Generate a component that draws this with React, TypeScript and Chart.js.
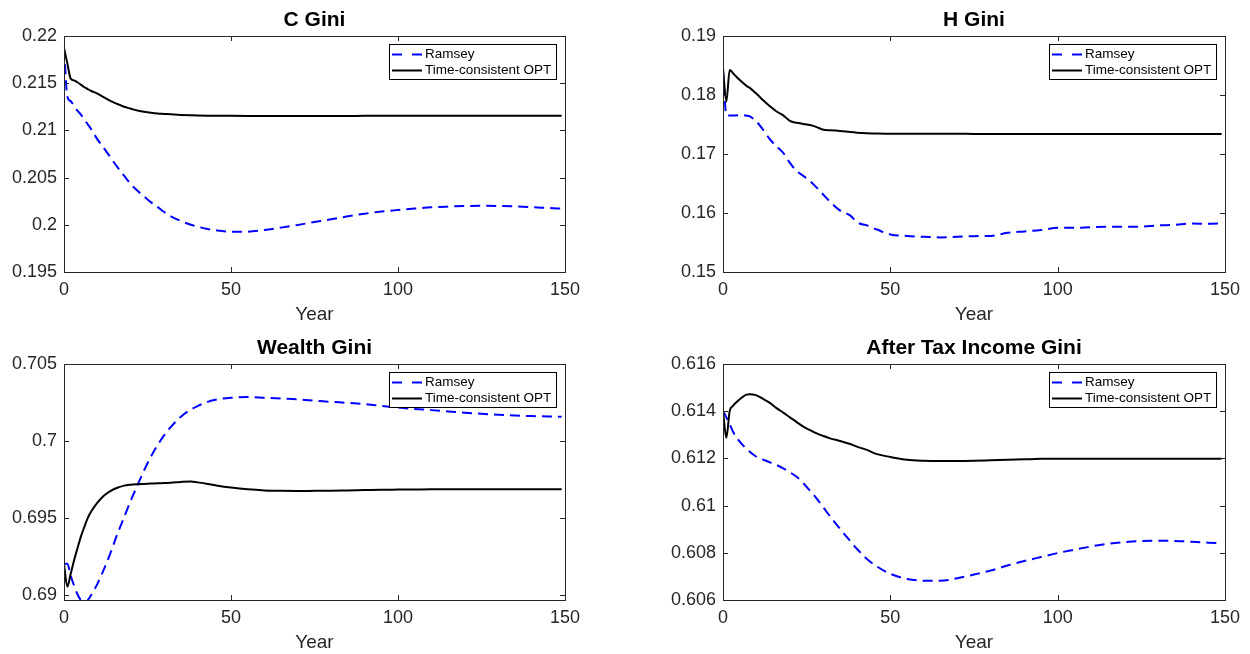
import { useEffect, useRef } from 'react';
import { Chart, registerables } from 'chart.js';

Chart.register(...registerables);

const years = [0, 1, 2, 3, 4, 5, 6, 7, 8, 10, 12, 14, 16, 18, 20, 22, 24, 26, 28, 30, 32, 35, 38, 40, 43, 46, 50, 55, 60, 65, 70, 75, 80, 85, 90, 95, 100, 105, 110, 115, 120, 125, 130, 135, 140, 145, 149];

const seriesLabels = ['Ramsey', 'Time-consistent OPT'];
const panelTitles = ['C Gini', 'H Gini', 'Wealth Gini', 'After Tax Income Gini'];
const xAxisLabel = 'Year';
const xTicks = [0, 50, 100, 150];

const cGiniRamsey = [0.2187, 0.2136, 0.2131, 0.2126, 0.2121, 0.2117, 0.2112, 0.2107, 0.2102, 0.20905, 0.2081, 0.2071, 0.2061, 0.2052, 0.2043, 0.2036, 0.2030, 0.2024, 0.2019, 0.20135, 0.2009, 0.2004, 0.2000, 0.1998, 0.19955, 0.1994, 0.19927, 0.19927, 0.19945, 0.1997, 0.19998, 0.2003, 0.20058, 0.2009, 0.20118, 0.2014, 0.20157, 0.20172, 0.20185, 0.20193, 0.20199, 0.20201, 0.20199, 0.20195, 0.20187, 0.20178, 0.20171];
const cGiniTC = [0.2187, 0.2171, 0.21548, 0.2153, 0.2151, 0.21485, 0.2146, 0.2144, 0.2142, 0.2139, 0.2135, 0.2131, 0.2128, 0.2125, 0.2123, 0.2121, 0.21198, 0.21188, 0.2118, 0.21175, 0.2117, 0.21164, 0.2116, 0.21158, 0.21156, 0.21155, 0.21154, 0.21153, 0.21152, 0.21152, 0.21152, 0.21152, 0.21153, 0.21153, 0.21154, 0.21154, 0.21155, 0.21155, 0.21155, 0.21155, 0.21155, 0.21155, 0.21155, 0.21155, 0.21155, 0.21155, 0.21155];
const cGiniTicks = [0.195, 0.2, 0.205, 0.21, 0.215, 0.22];

const hGiniRamsey = [0.1844, 0.1766, 0.17654, 0.17652, 0.17655, 0.17654, 0.1766, 0.1765, 0.17637, 0.1755, 0.1741, 0.1725, 0.1713, 0.1702, 0.1685, 0.1671, 0.1663, 0.1654, 0.1643, 0.1631, 0.1619, 0.1604, 0.1596, 0.15845, 0.1579, 0.1572, 0.15637, 0.1561, 0.15597, 0.15586, 0.15597, 0.15608, 0.1561, 0.15665, 0.15687, 0.1571, 0.15749, 0.15749, 0.15761, 0.15766, 0.15766, 0.1577, 0.15789, 0.158, 0.15822, 0.15817, 0.15822];
const hGiniTC = [0.1844, 0.1789, 0.18425, 0.18369, 0.1831, 0.18256, 0.18205, 0.18155, 0.1812, 0.1802, 0.1791, 0.1781, 0.1772, 0.17655, 0.1756, 0.1753, 0.1751, 0.1749, 0.17456, 0.1741, 0.17402, 0.1739, 0.17372, 0.17362, 0.17353, 0.17347, 0.17344, 0.17343, 0.17342, 0.17342, 0.17342, 0.17341, 0.17341, 0.17341, 0.1734, 0.1734, 0.1734, 0.1734, 0.1734, 0.1734, 0.1734, 0.1734, 0.1734, 0.1734, 0.1734, 0.1734, 0.1734];
const hGiniTicks = [0.15, 0.16, 0.17, 0.18, 0.19];

const wealthRamsey = [0.692, 0.692, 0.69124, 0.69059, 0.69004, 0.68965, 0.6895, 0.68961, 0.68993, 0.6907, 0.69167, 0.69276, 0.69396, 0.69504, 0.69613, 0.69711, 0.69809, 0.69896, 0.69972, 0.70037, 0.70091, 0.70157, 0.70204, 0.70226, 0.70254, 0.7027, 0.7028, 0.70285, 0.7028, 0.70275, 0.7027, 0.70262, 0.70254, 0.70247, 0.70239, 0.70228, 0.70217, 0.70208, 0.702, 0.70191, 0.70183, 0.70176, 0.7017, 0.70165, 0.70161, 0.70159, 0.70157];
const wealthTC = [0.692, 0.69052, 0.69135, 0.69222, 0.69298, 0.69374, 0.69435, 0.69493, 0.69535, 0.69598, 0.69645, 0.69675, 0.69695, 0.69709, 0.69715, 0.69718, 0.6972, 0.69722, 0.69724, 0.69726, 0.69728, 0.69733, 0.69736, 0.6973, 0.6972, 0.69708, 0.69696, 0.69685, 0.69678, 0.69675, 0.69674, 0.69675, 0.69676, 0.69678, 0.6968, 0.69682, 0.69683, 0.69684, 0.69685, 0.69685, 0.69685, 0.69685, 0.69685, 0.69685, 0.69685, 0.69685, 0.69685];
const wealthTicks = [0.69, 0.695, 0.7, 0.705];

const incomeRamsey = [0.61401, 0.61374, 0.61345, 0.61313, 0.6129, 0.61271, 0.61255, 0.6124, 0.61228, 0.61207, 0.61195, 0.61183, 0.61172, 0.61158, 0.61141, 0.61122, 0.61095, 0.61063, 0.6103, 0.60992, 0.60954, 0.60901, 0.6085, 0.60817, 0.60774, 0.60742, 0.60711, 0.60689, 0.60682, 0.60682, 0.60692, 0.60708, 0.60725, 0.60746, 0.60765, 0.60782, 0.60799, 0.60813, 0.60827, 0.60838, 0.60845, 0.6085, 0.60851, 0.6085, 0.60847, 0.60843, 0.6084];
const incomeTC = [0.61401, 0.61288, 0.61401, 0.61423, 0.61438, 0.61451, 0.61462, 0.6147, 0.61472, 0.61467, 0.61452, 0.61435, 0.61413, 0.61394, 0.61374, 0.61354, 0.61335, 0.6132, 0.61306, 0.61295, 0.61285, 0.61274, 0.61261, 0.6125, 0.61236, 0.61218, 0.61206, 0.61194, 0.6119, 0.61189, 0.61189, 0.6119, 0.61192, 0.61194, 0.61196, 0.61198, 0.61199, 0.61199, 0.61199, 0.61199, 0.61199, 0.61199, 0.61199, 0.61199, 0.61199, 0.61199, 0.61199];
const incomeTicks = [0.606, 0.608, 0.61, 0.612, 0.614, 0.616];

const FONT = '"Liberation Sans", Arial, Helvetica, sans-serif';
const AXIS_COLOR = '#262626';

type Panel = {
  title: string;
  ramsey: number[];
  tc: number[];
  yMin: number;
  yMax: number;
  yTicks: number[];
  left: number;
  top: number;
  width: number;
  height: number;
  padRight: number;
};

const panels: Panel[] = [
  { title: panelTitles[0], ramsey: cGiniRamsey, tc: cGiniTC, yMin: 0.195, yMax: 0.22, yTicks: cGiniTicks, left: 0, top: 0, width: 620, height: 326, padRight: 55 },
  { title: panelTitles[1], ramsey: hGiniRamsey, tc: hGiniTC, yMin: 0.15, yMax: 0.19, yTicks: hGiniTicks, left: 659, top: 0, width: 591, height: 326, padRight: 25 },
  { title: panelTitles[2], ramsey: wealthRamsey, tc: wealthTC, yMin: 0.68965, yMax: 0.705, yTicks: wealthTicks, left: 0, top: 328, width: 620, height: 326, padRight: 55 },
  { title: panelTitles[3], ramsey: incomeRamsey, tc: incomeTC, yMin: 0.606, yMax: 0.616, yTicks: incomeTicks, left: 659, top: 328, width: 591, height: 326, padRight: 25 },
];

function makeFramePlugin(title: string) {
  return {
    id: 'matlabFrame',
    afterDraw(chart: any) {
      const { ctx, chartArea } = chart;
      const { left, right, top, bottom } = chartArea;
      const xs = chart.scales.x;
      const ys = chart.scales.y;
      ctx.save();
      // box
      ctx.strokeStyle = AXIS_COLOR;
      ctx.lineWidth = 1;
      ctx.setLineDash([]);
      ctx.strokeRect(Math.round(left) + 0.5, Math.round(top) + 0.5, Math.round(right - left), Math.round(bottom - top));
      // inward ticks
      const tl = 5;
      ctx.beginPath();
      for (const t of xs.ticks) {
        const px = Math.round(xs.getPixelForValue(t.value)) + 0.5;
        ctx.moveTo(px, bottom);
        ctx.lineTo(px, bottom - tl);
        ctx.moveTo(px, top);
        ctx.lineTo(px, top + tl);
      }
      for (const t of ys.ticks) {
        const py = Math.round(ys.getPixelForValue(t.value)) + 0.5;
        ctx.moveTo(left, py);
        ctx.lineTo(left + tl, py);
        ctx.moveTo(right, py);
        ctx.lineTo(right - tl, py);
      }
      ctx.stroke();
      // title
      ctx.fillStyle = '#000';
      ctx.font = `bold 21px ${FONT}`;
      ctx.textAlign = 'center';
      ctx.textBaseline = 'middle';
      ctx.fillText(title, (left + right) / 2, top - 16);
      // legend
      const bw = 167;
      const bh = 35;
      const bx = Math.round(right) - 9 - bw;
      const by = Math.round(top) + 8;
      ctx.fillStyle = '#fff';
      ctx.fillRect(bx, by, bw, bh);
      ctx.strokeStyle = '#000';
      ctx.lineWidth = 1;
      ctx.strokeRect(bx + 0.5, by + 0.5, bw, bh);
      const rows = [
        { label: seriesLabels[0], color: '#0000ff', dash: [10, 10], y: by + 10.5 },
        { label: seriesLabels[1], color: '#000000', dash: [], y: by + 26.5 },
      ];
      ctx.font = `13.5px ${FONT}`;
      ctx.textAlign = 'left';
      for (const r of rows) {
        ctx.beginPath();
        ctx.strokeStyle = r.color;
        ctx.lineWidth = 2;
        ctx.setLineDash(r.dash);
        ctx.moveTo(bx + 3, r.y);
        ctx.lineTo(bx + 33, r.y);
        ctx.stroke();
        ctx.setLineDash([]);
        ctx.fillStyle = '#000';
        ctx.fillText(r.label, bx + 36, r.y);
      }
      ctx.restore();
    },
  };
}

function PanelChart({ p }: { p: Panel }) {
  const ref = useRef<HTMLCanvasElement | null>(null);
  useEffect(() => {
    if (!ref.current) return;
    const chart = new Chart(ref.current, {
      type: 'line',
      data: {
        datasets: [
          {
            label: seriesLabels[0],
            data: years.map((x, i) => ({ x, y: p.ramsey[i] })),
            borderColor: '#0000ff',
            borderWidth: 2,
            borderDash: [10, 6],
            pointRadius: 0,
            fill: false,
            cubicInterpolationMode: 'monotone',
            order: 1,
          },
          {
            label: seriesLabels[1],
            data: years.map((x, i) => ({ x, y: p.tc[i] })),
            borderColor: '#000000',
            borderWidth: 2,
            pointRadius: 0,
            fill: false,
            cubicInterpolationMode: 'monotone',
            order: 0,
          },
        ],
      } as any,
      options: {
        animation: false,
        responsive: false,
        devicePixelRatio: 1,
        layout: { padding: { left: 0, right: p.padRight, top: 36, bottom: 0 } },
        plugins: {
          legend: { display: false },
          title: { display: false },
          tooltip: { enabled: false },
        },
        scales: {
          x: {
            type: 'linear',
            min: 0,
            max: 150,
            grid: { display: false, drawTicks: false, tickLength: 0 },
            border: { display: false },
            afterBuildTicks: (s: any) => {
              s.ticks = xTicks.map((v) => ({ value: v }));
            },
            afterFit: (s: any) => {
              s.height = 54;
            },
            ticks: {
              padding: 7,
              maxRotation: 0,
              color: AXIS_COLOR,
              font: { family: FONT, size: 18 },
              callback: (v: any) => String(v),
            },
            title: {
              display: true,
              text: xAxisLabel,
              color: AXIS_COLOR,
              font: { family: FONT, size: 19 },
              padding: { top: 0, bottom: 0 },
            },
          },
          y: {
            type: 'linear',
            min: p.yMin,
            max: p.yMax,
            grid: { display: false, drawTicks: false, tickLength: 0 },
            border: { display: false },
            afterBuildTicks: (s: any) => {
              s.ticks = p.yTicks.map((v) => ({ value: v }));
            },
            afterFit: (s: any) => {
              s.width = 64;
            },
            ticks: {
              padding: 7,
              color: AXIS_COLOR,
              font: { family: FONT, size: 18 },
              callback: (v: any) => String(v),
            },
          },
        },
      } as any,
      plugins: [makeFramePlugin(p.title)],
    });
    return () => chart.destroy();
  }, [p]);
  return (
    <canvas
      ref={ref}
      width={p.width}
      height={p.height}
      style={{ position: 'absolute', left: p.left, top: p.top, width: p.width, height: p.height }}
    />
  );
}

export default function App() {
  return (
    <div style={{ position: 'absolute', left: 0, top: 0, width: 1250, height: 654, background: '#fff', overflow: 'hidden' }}>
      {panels.map((p) => (
        <PanelChart key={p.title} p={p} />
      ))}
    </div>
  );
}
